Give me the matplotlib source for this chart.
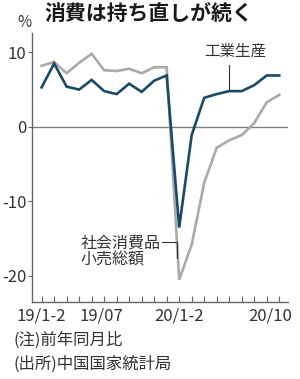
import matplotlib.pyplot as plt
import matplotlib.transforms as mtransforms
import numpy as np

# 月次データ (2019/1-2 〜 2020/10)、前年同月比 %
months = ['19/1-2', '19/03', '19/04', '19/05', '19/06', '19/07', '19/08', '19/09', '19/10', '19/11', '19/12',
          '20/1-2', '20/03', '20/04', '20/05', '20/06', '20/07', '20/08', '20/09', '20/10']
industry = [5.3, 8.5, 5.4, 5.0, 6.3, 4.8, 4.4, 5.8, 4.7, 6.2, 6.9,
            -13.5, -1.1, 3.9, 4.4, 4.8, 4.8, 5.6, 6.9, 6.9]
retail = [8.2, 8.7, 7.2, 8.6, 9.8, 7.6, 7.5, 7.8, 7.2, 8.0, 8.0,
          -20.5, -15.8, -7.5, -2.8, -1.8, -1.1, 0.5, 3.3, 4.3]
tick_idx = [0, 5, 11, 19]
tick_lab = ['19/1-2', '19/07', '20/1-2', '20/10']
yticks = [-20, -10, 0, 10]

jp = ['Noto Sans CJK JP', 'DejaVu Sans']
num = ['Liberation Sans Narrow', 'Noto Sans CJK JP', 'DejaVu Sans']
plt.rcParams['font.family'] = jp

blue = '#1b4a68'
gray = '#aaaaae'
txt = '#333333'

fig = plt.figure(figsize=(3.0, 3.79), dpi=100)
ax = fig.add_axes([0.107, 0.203, 0.853, 0.71])

x = np.arange(len(months))
ax.axhline(0, color='#808080', lw=1.0, zorder=1)
ax.plot(x, retail, color=gray, lw=1.9, zorder=2, solid_joinstyle='miter')
ax.plot(x, industry, color=blue, lw=1.9, zorder=3, solid_joinstyle='miter')

ax.set_xlim(-0.76, 19.7)
ax.set_ylim(-23.5, 12.6)

for s in ['top', 'right']:
    ax.spines[s].set_visible(False)
for s in ['left', 'bottom']:
    ax.spines[s].set_color('#666666')
    ax.spines[s].set_linewidth(1.0)

ax.set_xticks(x, minor=True)
ax.set_xticks(tick_idx)
ax.set_xticklabels(tick_lab, family=num, fontsize=12, color=txt)
ax.tick_params(axis='x', which='both', direction='in', length=4, width=0.8, color='#666666', pad=4)
ax.set_yticks(yticks)
ax.set_yticklabels([str(v) for v in yticks], family=num, fontsize=12, color=txt)
ax.tick_params(axis='y', direction='out', length=3, width=0.8, color='#666666', pad=1)

# 最後のラベルを左へずらす
lab = ax.get_xticklabels()[-1]
lab.set_transform(lab.get_transform() + mtransforms.ScaledTranslation(-0.09, 0, fig.dpi_scale_trans))
lab0 = ax.get_xticklabels()[1]
lab0.set_transform(lab0.get_transform() + mtransforms.ScaledTranslation(-0.03, 0, fig.dpi_scale_trans))

# 注記ラベル
ax.text(15.5, 10.1, '工業生産', fontsize=11.2, color=txt, ha='center', va='center')
ax.plot([15, 15], [8.3, 4.8], color=txt, lw=0.8)
ax.text(3.1, -16.7, '社会消費品\n小売総額', fontsize=11.5, color=txt, ha='left', va='center', linespacing=1.0)
ax.plot([9.65, 10.85, 10.85], [-15.4, -15.4, -17.6], color=txt, lw=0.8)

fig.text(0.497, 0.964, '消費は持ち直しが続く', fontsize=15, fontweight='bold', ha='center', va='center', color='#1a1a1a')
fig.text(0.08, 0.94, '%', fontsize=11, ha='center', va='center', color=txt)
fig.text(0.045, 0.103, '(注)前年同月比', fontsize=11.8, ha='left', va='center', color=txt)
fig.text(0.045, 0.040, '(出所)中国国家統計局', fontsize=11.8, ha='left', va='center', color=txt)

fig.savefig('out.png', dpi=100)
